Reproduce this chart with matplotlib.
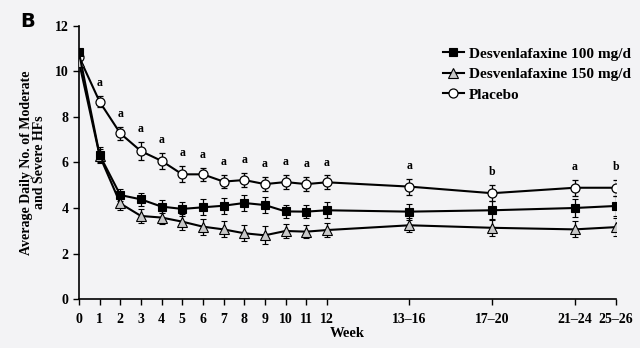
import numpy as np
import matplotlib.pyplot as plt
from matplotlib.lines import Line2D

# Datos
week_pos = [0, 1, 2, 3, 4, 5, 6, 7, 8, 9, 10, 11, 12, 16, 20, 24, 26]
week_labels = ["0", "1", "2", "3", "4", "5", "6", "7", "8", "9", "10", "11", "12",
               "13\u201316", "17\u201320", "21\u201324", "25\u201326"]

desv100 = [10.84, 6.33, 4.57, 4.38, 4.06, 3.96, 4.03, 4.10, 4.22, 4.13, 3.85, 3.84, 3.90,
           3.84, 3.90, 4.00, 4.09]
desv100_err = [0.10, 0.35, 0.25, 0.30, 0.30, 0.30, 0.35, 0.35, 0.35, 0.35, 0.30, 0.30, 0.35,
               0.35, 0.40, 0.40, 0.45]

desv150 = [10.43, 6.30, 4.20, 3.65, 3.58, 3.40, 3.18, 3.06, 2.89, 2.80, 2.99, 2.96, 3.03,
           3.24, 3.13, 3.06, 3.16]
desv150_err = [0.10, 0.30, 0.30, 0.30, 0.30, 0.35, 0.35, 0.35, 0.35, 0.40, 0.30, 0.30, 0.30,
               0.30, 0.35, 0.35, 0.40]

placebo = [10.65, 8.67, 7.28, 6.50, 6.07, 5.48, 5.48, 5.16, 5.23, 5.05, 5.14, 5.05, 5.13,
           4.94, 4.65, 4.89, 4.89]
placebo_err = [0.15, 0.25, 0.30, 0.40, 0.35, 0.35, 0.30, 0.30, 0.30, 0.30, 0.30, 0.30, 0.30,
               0.35, 0.35, 0.35, 0.35]

# letras de significancia (semana 0 sin letra)
sig = ["", "a", "a", "a", "a", "a", "a", "a", "a", "a", "a", "a", "a", "a", "b", "a", "b"]

plt.rcParams["font.family"] = ["Liberation Serif", "DejaVu Serif"]
plt.rcParams["font.weight"] = "bold"

bg = "#f3f3f5"
fig = plt.figure(figsize=(6.4, 3.48), dpi=100, facecolor=bg)
ax = fig.add_axes([0.1234, 0.1408, 0.8391, 0.7845], facecolor=bg)

common = dict(color="black", lw=1.5, capsize=2.5, elinewidth=0.9, capthick=0.9, zorder=3)
styles = {
    "Placebo": dict(marker="o", ms=6.5, mfc="white", mec="black", mew=0.9),
    "Desvenlafaxine 150 mg/d": dict(marker="^", ms=6.5, mfc="#c8c8c8", mec="black", mew=0.8),
    "Desvenlafaxine 100 mg/d": dict(marker="s", ms=6, mfc="black", mec="black", mew=0.8),
}
ax.errorbar(week_pos, placebo, yerr=placebo_err, **styles["Placebo"], **common)
ax.errorbar(week_pos, desv150, yerr=desv150_err, **styles["Desvenlafaxine 150 mg/d"], **common)
ax.errorbar(week_pos, desv100, yerr=desv100_err, **styles["Desvenlafaxine 100 mg/d"], **common)

for x, y, e, s in zip(week_pos, placebo, placebo_err, sig):
    if s:
        ax.annotate(s, (x, y + e), textcoords="offset points", xytext=(0, 5),
                    ha="center", va="bottom", fontsize=8.5, fontweight="bold")

ax.set_xlim(0, 26)
ax.set_ylim(0, 12)
ax.set_xticks(week_pos)
ax.set_xticklabels(week_labels)
ax.set_yticks([0, 2, 4, 6, 8, 10, 12])
ax.tick_params(direction="out", length=4, width=1, labelsize=10)
ax.tick_params(axis="x", pad=6)
for lbl in ax.get_xticklabels() + ax.get_yticklabels():
    lbl.set_fontweight("bold")
ax.spines["top"].set_visible(False)
ax.spines["right"].set_visible(False)
ax.spines["left"].set_linewidth(1.2)
ax.spines["bottom"].set_linewidth(1.2)

ax.set_xlabel("Week", fontsize=10.5, fontweight="bold", labelpad=1)
ax.set_ylabel("Average Daily No. of Moderate\nand Severe HFs", fontsize=10,
              fontweight="bold", labelpad=6, linespacing=1.0)

# Leyenda sin barras de error
order = ["Desvenlafaxine 100 mg/d", "Desvenlafaxine 150 mg/d", "Placebo"]
handles = [Line2D([], [], color="black", lw=1.5, **styles[k]) for k in order]
fig.legend(handles, order, loc="upper left",
           bbox_to_anchor=(0.67, 0.905), frameon=False,
           handlelength=1.4, handletextpad=0.3, labelspacing=0.45,
           prop={"weight": "bold", "size": 11})

fig.text(0.032, 0.965, "B", fontsize=14, fontweight="bold", family="DejaVu Sans",
         va="top", ha="left")

fig.savefig("out.png", dpi=100, facecolor=bg)
